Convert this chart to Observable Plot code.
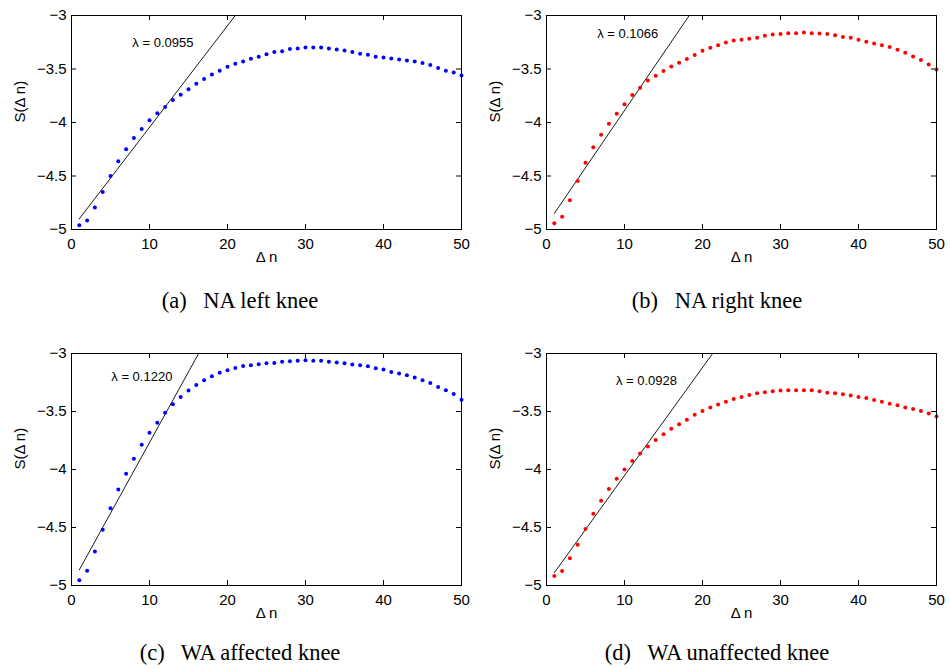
<!DOCTYPE html>
<html>
<head>
<meta charset="utf-8">
<script src="https://cdn.jsdelivr.net/npm/d3@7"></script>
<script src="https://cdn.jsdelivr.net/npm/@observablehq/plot@0.6"></script>
<style>
  html, body { margin: 0; padding: 0; background: #fff; }
  body { width: 950px; height: 669px; position: relative; overflow: hidden; }
  .panel { position: absolute; }
  .cap { position: absolute; font-family: "Liberation Serif", "Times New Roman", serif; font-size: 22.5px; line-height: 1; white-space: pre; transform: translateX(-50%); color: #000; }
  .cap span { margin-right: 11px; }
</style>
</head>
<body>
<script>
// ---- data ----
const deltaN = [1,2,3,4,5,6,7,8,9,10,11,12,13,14,15,16,17,18,19,20,21,22,23,24,25,26,27,28,29,30,31,32,33,34,35,36,37,38,39,40,41,42,43,44,45,46,47,48,49,50];

const naLeft = [-4.960,-4.916,-4.795,-4.649,-4.499,-4.362,-4.250,-4.145,-4.061,-3.980,
                -3.914,-3.855,-3.790,-3.740,-3.690,-3.638,-3.594,-3.551,-3.516,-3.479,
                -3.451,-3.429,-3.404,-3.386,-3.361,-3.342,-3.333,-3.314,-3.308,-3.299,
                -3.299,-3.299,-3.308,-3.317,-3.327,-3.342,-3.358,-3.367,-3.386,-3.392,
                -3.401,-3.411,-3.420,-3.429,-3.445,-3.463,-3.491,-3.516,-3.532,-3.560];

const naRight = [-4.941,-4.882,-4.726,-4.546,-4.375,-4.232,-4.114,-4.011,-3.918,-3.830,
                 -3.743,-3.675,-3.607,-3.563,-3.519,-3.476,-3.442,-3.407,-3.370,-3.330,
                 -3.302,-3.277,-3.252,-3.233,-3.227,-3.218,-3.208,-3.190,-3.177,-3.174,
                 -3.165,-3.165,-3.159,-3.165,-3.168,-3.174,-3.184,-3.202,-3.208,-3.227,
                 -3.246,-3.261,-3.277,-3.295,-3.320,-3.348,-3.383,-3.417,-3.457,-3.504];

const waAffected = [-4.954,-4.873,-4.706,-4.519,-4.334,-4.173,-4.037,-3.908,-3.787,-3.683,
                    -3.597,-3.510,-3.438,-3.375,-3.320,-3.271,-3.231,-3.196,-3.167,-3.144,
                    -3.124,-3.107,-3.101,-3.092,-3.084,-3.081,-3.072,-3.066,-3.063,-3.058,
                    -3.063,-3.063,-3.072,-3.078,-3.084,-3.095,-3.101,-3.110,-3.127,-3.138,
                    -3.159,-3.173,-3.187,-3.207,-3.231,-3.254,-3.288,-3.317,-3.349,-3.398];

const waUnaffected = [-4.919,-4.876,-4.766,-4.648,-4.512,-4.382,-4.270,-4.169,-4.079,-3.999,
                      -3.926,-3.863,-3.802,-3.745,-3.696,-3.649,-3.609,-3.571,-3.528,-3.496,
                      -3.465,-3.439,-3.416,-3.392,-3.375,-3.358,-3.343,-3.335,-3.326,-3.320,
                      -3.317,-3.317,-3.317,-3.317,-3.326,-3.338,-3.343,-3.352,-3.361,-3.375,
                      -3.384,-3.401,-3.416,-3.433,-3.447,-3.465,-3.479,-3.496,-3.517,-3.543];

// fitted lines (start / end points)
const fitNaLeftN = [1, 21.0],       fitNaLeftS = [-4.90, -3.0];
const fitNaRightN = [1, 18.3],      fitNaRightS = [-4.85, -3.0];
const fitWaAffectedN = [1, 16.3],   fitWaAffectedS = [-4.865, -3.0];
const fitWaUnaffectedN = [1, 21.3], fitWaUnaffectedS = [-4.89, -3.0];

const lambdaLabels = ["λ = 0.0955", "λ = 0.1066", "λ = 0.1220", "λ = 0.0928"];
const captionTags = ["(a)", "(b)", "(c)", "(d)"];
const captionTexts = ["NA left knee", "NA right knee", "WA affected knee", "WA unaffected knee"];

const xTicks = [0, 10, 20, 30, 40, 50];
const yTicks = [-5, -4.5, -4, -3.5, -3];
const xLabel = "Δ n";
const yLabel = "S(Δ n)";

// ---- layout ----
const fmt = d => String(d).replace("-", "\u2212");
const panels = [
  {values: naLeft, fitN: fitNaLeftN, fitS: fitNaLeftS, color: "#0000ff", lx: 7.8, ly: -3.252, left: 0, top: 0, frameH: 214, height: 289, capTop: 290, capX: 240},
  {values: naRight, fitN: fitNaRightN, fitS: fitNaRightS, color: "#ff0000", lx: 6.5, ly: -3.171, left: 475, top: 0, frameH: 214, height: 289, capTop: 290, capX: 717},
  {values: waAffected, fitN: fitWaAffectedN, fitS: fitWaAffectedS, color: "#0000ff", lx: 5.1, ly: -3.204, left: 0, top: 338, frameH: 232, height: 297, capTop: 642, capX: 240},
  {values: waUnaffected, fitN: fitWaUnaffectedN, fitS: fitWaUnaffectedS, color: "#ff0000", lx: 8.9, ly: -3.239, left: 475, top: 338, frameH: 232, height: 297, capTop: 642, capX: 717}
];

panels.forEach((p, k) => {
  const FW = 390, FH = p.frameH, T = 5;
  const pts = deltaN.map((n, i) => ({n, s: p.values[i]}));
  const fit = p.fitN.map((n, i) => ({n, s: p.fitS[i]}));
  const chart = Plot.plot({
    width: 475,
    height: p.height,
    marginLeft: 71,
    marginRight: 14,
    marginTop: 15,
    marginBottom: p.height - 15 - FH,
    x: {domain: [0, 50]},
    y: {domain: [-5, -3]},
    style: {fontFamily: "'Liberation Sans', Arial, Helvetica, sans-serif", fontSize: "15px", color: "#000", background: "#fff", overflow: "visible"},
    marks: [
      // inward ticks on all four sides
      Plot.ruleX(xTicks, {x: d => d, insetTop: FH - T, stroke: "#000", strokeWidth: 1}),
      Plot.ruleX(xTicks, {x: d => d, insetBottom: FH - T, stroke: "#000", strokeWidth: 1}),
      Plot.ruleY(yTicks, {y: d => d, insetRight: FW - T, stroke: "#000", strokeWidth: 1}),
      Plot.ruleY(yTicks, {y: d => d, insetLeft: FW - T, stroke: "#000", strokeWidth: 1}),
      Plot.axisX(xTicks, {tickSize: 0, tickPadding: 9, tickFormat: fmt, label: null, fontSize: 15}),
      Plot.axisY(yTicks, {tickSize: 0, tickPadding: 5, tickFormat: fmt, label: null, fontSize: 15}),
      Plot.line(fit, {x: "n", y: "s", stroke: "#000", strokeWidth: 0.9}),
      Plot.dot(pts, {x: "n", y: "s", r: 2, fill: p.color, stroke: null}),
      Plot.text([{x: p.lx, y: p.ly, t: lambdaLabels[k]}], {x: "x", y: "y", text: "t", textAnchor: "start", fontSize: 13}),
      Plot.text([xLabel], {frameAnchor: "bottom", dy: 32, fontSize: 15}),
      Plot.text([yLabel], {frameAnchor: "left", dx: -51, rotate: -90, fontSize: 15}),
      Plot.frame({stroke: "#000", strokeWidth: 1})
    ]
  });
  const wrap = document.createElement("div");
  wrap.className = "panel";
  wrap.style.left = p.left + "px";
  wrap.style.top = p.top + "px";
  wrap.appendChild(chart);
  document.body.appendChild(wrap);

  const cap = document.createElement("div");
  cap.className = "cap";
  cap.style.left = p.capX + "px";
  cap.style.top = p.capTop + "px";
  const tag = document.createElement("span");
  tag.textContent = captionTags[k];
  cap.appendChild(tag);
  cap.appendChild(document.createTextNode(" " + captionTexts[k]));
  document.body.appendChild(cap);
});
</script>
</body>
</html>
